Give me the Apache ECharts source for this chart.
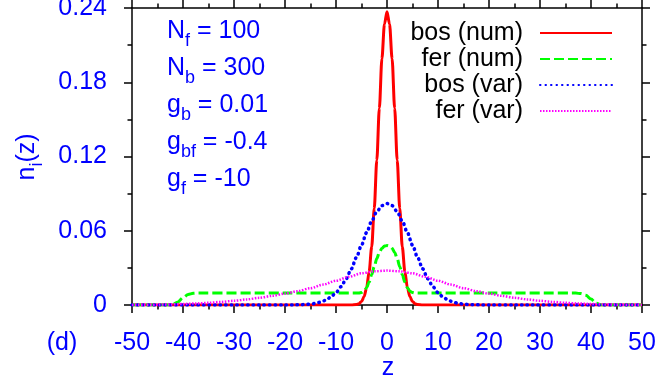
<!DOCTYPE html>
<html>
<head>
<meta charset="utf-8">
<script src="https://cdn.jsdelivr.net/npm/echarts@6/dist/echarts.min.js"></script>
<style>
  html, body { margin: 0; padding: 0; background: #fff; }
  #chart { width: 664px; height: 380px; }
</style>
</head>
<body>
<div id="chart"></div>
<script>
// values
const xTicks = [-50, -40, -30, -20, -10, 0, 10, 20, 30, 40, 50]
const yTicks = [0, 0.06, 0.12, 0.18, 0.24]

const zBosNum = [-50, -10, -7, -6, -5.5, -5, -4.5, -4, -3.5, -3, -2.5, -2, -1.5, -1, -0.5, 0,
    0.5, 1, 1.5, 2, 2.5, 3, 3.5, 4, 4.5, 5, 5.5, 6, 7, 10, 50]
const bosNum = [0, 0, 0, 0.0004, 0.0011, 0.0028, 0.0066, 0.0139, 0.027, 0.047, 0.078, 0.117, 0.159, 0.199, 0.227, 0.237,
    0.227, 0.199, 0.159, 0.117, 0.078, 0.047, 0.027, 0.0139, 0.0066, 0.0028, 0.0011, 0.0004, 0, 0, 0]

const zFerNum = [-50, -43, -42, -41, -40, -39, -38, -37, -20, -6, -5.5, -5, -4.5, -4, -3.5, -3, -2.5, -2, -1.5, -1, -0.5, 0,
    0.5, 1, 1.5, 2, 2.5, 3, 3.5, 4, 4.5, 5, 5.5, 6, 20, 37, 38, 39, 40, 41, 42, 43, 50]
const ferNum = [0, 0, 0.0003, 0.0025, 0.006, 0.0085, 0.0094, 0.0096, 0.0096, 0.0096, 0.0097, 0.0101, 0.0112, 0.014, 0.0185, 0.0245, 0.031, 0.0375, 0.0425, 0.0458, 0.0476, 0.048,
    0.0476, 0.0458, 0.0425, 0.0375, 0.031, 0.0245, 0.0185, 0.014, 0.0112, 0.0101, 0.0097, 0.0096, 0.0096, 0.0096, 0.0092, 0.0078, 0.0048, 0.0015, 0.0001, 0, 0]

const zBosVar = [-50, -25, -20, -18, -17, -16, -15, -14, -13, -12, -11, -10, -9, -8, -7, -6, -5, -4, -3, -2, -1, 0,
    1, 2, 3, 4, 5, 6, 7, 8, 9, 10, 11, 12, 13, 14, 15, 16, 17, 18, 20, 25, 50]
const bosVar = [0, 0, 0, 0.0001, 0.0002, 0.0004, 0.0007, 0.0013, 0.0023, 0.0039, 0.0064, 0.01, 0.0148, 0.0212, 0.0292, 0.0384, 0.0484, 0.0585, 0.0678, 0.0754, 0.0803, 0.082,
    0.0803, 0.0754, 0.0678, 0.0585, 0.0484, 0.0384, 0.0292, 0.0212, 0.0148, 0.01, 0.0064, 0.0039, 0.0023, 0.0013, 0.0007, 0.0004, 0.0002, 0.0001, 0, 0, 0]

const zFerVar = [-50, -47.5, -45, -42.5, -40, -37.5, -35, -32.5, -30, -27.5, -25, -22.5, -20, -17.5, -15, -12.5, -10, -7.5, -5, -2.5, 0,
    2.5, 5, 7.5, 10, 12.5, 15, 17.5, 20, 22.5, 25, 27.5, 30, 32.5, 35, 37.5, 40, 42.5, 45, 47.5, 50]
const ferVar = [0.0001, 0.0002, 0.0003, 0.0005, 0.0008, 0.0012, 0.0018, 0.0025, 0.0034, 0.0045, 0.0058, 0.0074, 0.0092, 0.0112, 0.0136, 0.0165, 0.0196, 0.0228, 0.0256, 0.0272, 0.0278,
    0.0272, 0.0256, 0.0228, 0.0196, 0.0165, 0.0136, 0.0112, 0.0092, 0.0074, 0.0058, 0.0045, 0.0034, 0.0025, 0.0018, 0.0012, 0.0008, 0.0005, 0.0003, 0.0002, 0.0001]

const names = ['bos (num)', 'fer (num)', 'bos (var)', 'fer (var)']

const font = 'Liberation Sans, Arial, Helvetica, sans-serif'
const blue = '#0000ff'

const pairs = (xs, ys) => xs.map((x, i) => [x, ys[i]])

const axisBase = (pos, showLabel, margin) => ({
    type: 'value',
    position: pos,
    axisLine: { onZero: false, lineStyle: { color: '#000', width: 1.5 } },
    axisTick: { inside: false, length: 8, lineStyle: { color: '#000', width: 1.5 } },
    minorTick: { show: true, splitNumber: 2, length: 4.5, lineStyle: { color: '#000', width: 1.5 } },
    splitLine: { show: false },
    axisLabel: { show: showLabel, margin: margin, color: blue, fontSize: 25, fontFamily: font }
})

let myChart = echarts.init(document.getElementById('chart'), null, { renderer: 'canvas' })

const mainText = { fontSize: 25, fontFamily: font, fill: blue }
const subText = { fontSize: 18, fontFamily: font, fill: blue, padding: [20, 0, 0, 0] }

const note = (y, txt) => ({
    type: 'text',
    left: 167,
    top: y,
    style: {
        text: txt,
        fill: blue,
        rich: { m: mainText, s: subText }
    }
})

myChart.setOption({
    animation: false,
    grid: { left: 132, right: 22, top: 8, bottom: 75, outerBoundsMode: 'none' },
    legend: {
        data: names,
        orient: 'vertical',
        align: 'right',
        right: 51,
        top: 20,
        padding: 0,
        itemGap: 0,
        itemWidth: 72,
        itemHeight: 14,
        selectedMode: false,
        itemStyle: { opacity: 0 },
        textStyle: { fontSize: 25, fontFamily: font, color: '#000', lineHeight: 26, padding: [0, 12, 0, 0] }
    },
    xAxis: [
        Object.assign(axisBase('bottom', true, 26), {
            min: xTicks[0], max: xTicks[xTicks.length - 1], interval: 10
        }),
        Object.assign(axisBase('top', false, 8), {
            min: xTicks[0], max: xTicks[xTicks.length - 1], interval: 10
        })
    ],
    yAxis: [
        Object.assign(axisBase('left', true, 25), {
            min: yTicks[0], max: yTicks[yTicks.length - 1], interval: 0.06
        }),
        Object.assign(axisBase('right', false, 8), {
            min: yTicks[0], max: yTicks[yTicks.length - 1], interval: 0.06
        })
    ],
    series: [
        {
            name: names[0], type: 'line', symbol: 'none', smooth: 0.3, smoothMonotone: 'x',
            lineStyle: { color: '#ff0000', width: 3 }, itemStyle: { color: '#ff0000' },
            data: pairs(zBosNum, bosNum)
        },
        {
            name: names[1], type: 'line', symbol: 'none', smooth: 0.3, smoothMonotone: 'x',
            lineStyle: { color: '#00ff00', width: 3, type: [10, 4] }, itemStyle: { color: '#00ff00' },
            data: pairs(zFerNum, ferNum)
        },
        {
            name: names[2], type: 'line', symbol: 'none', smooth: 0.3, smoothMonotone: 'x',
            lineStyle: { color: '#0000ff', width: 3.5, type: [0.5, 5], cap: 'round' }, itemStyle: { color: '#0000ff' },
            data: pairs(zBosVar, bosVar)
        },
        {
            name: names[3], type: 'line', symbol: 'none', smooth: 0.3, smoothMonotone: 'x',
            lineStyle: { color: '#ff00ff', width: 2.5, type: [1.5, 1.5] }, itemStyle: { color: '#ff00ff' },
            data: pairs(zFerVar, ferVar)
        }
    ],
    graphic: [
        note(19, '{m|N}{s|f}{m| = 100}'),
        note(56, '{m|N}{s|b}{m| = 300}'),
        note(93, '{m|g}{s|b}{m| = 0.01}'),
        note(130, '{m|g}{s|bf}{m| = -0.4}'),
        note(167, '{m|g}{s|f}{m| = -10}'),
        {
            type: 'text',
            x: 27, y: 157,
            rotation: Math.PI / 2,
            style: {
                text: '{m|n}{s|i}{m|(z)}',
                fill: blue,
                align: 'center', verticalAlign: 'middle',
                rich: { m: mainText, s: subText }
            }
        },
        {
            type: 'text',
            x: 62, y: 343,
            style: { text: '(d)', align: 'center', verticalAlign: 'middle', fontSize: 25, fontFamily: font, fill: blue }
        },
        {
            type: 'text',
            x: 388, y: 368,
            style: { text: 'z', align: 'center', verticalAlign: 'middle', fontSize: 25, fontFamily: font, fill: blue }
        }
    ]
})
</script>
</body>
</html>
